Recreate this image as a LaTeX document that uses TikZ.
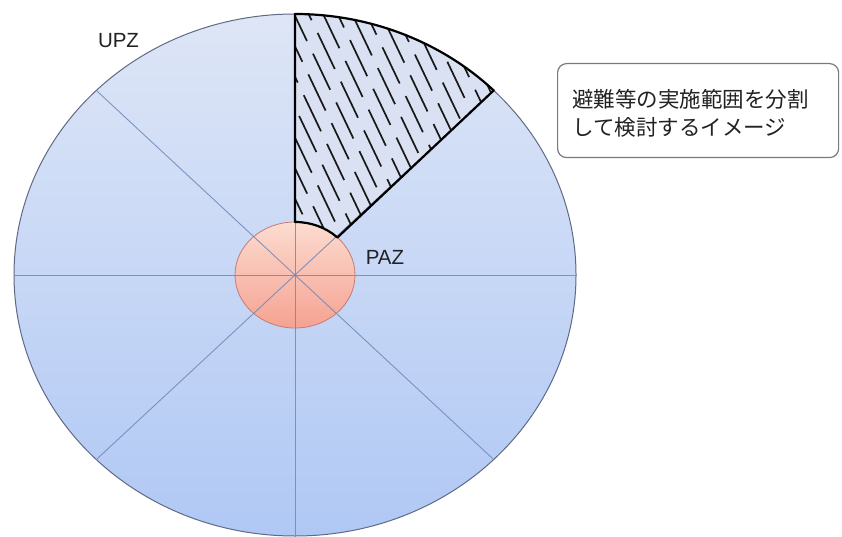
\documentclass[tikz,border=0pt]{standalone}
\usepackage{fontspec}
\setmainfont{Liberation Sans}
\newfontfamily\jpfont{Noto Sans CJK JP}
\usetikzlibrary{calc}
\begin{document}
\begin{tikzpicture}[x=1pt,y=1pt,
  radial/.style={draw=radline,line width=0.9pt},
  sectorborder/.style={draw=black,line width=2.2pt,line join=round},
  hatchline/.style={draw=black!90,line width=1.7pt,dash pattern=on 40pt off 14pt},
  lbl/.style={font=\fontsize{20.5}{24}\selectfont,text=textgray,inner sep=0pt},
  notebox/.style={draw=boxgray,line width=1.2pt,rounded corners=9pt,fill=white,inner sep=0pt}
]
\definecolor{radline}{HTML}{6F86B8}
\definecolor{textgray}{HTML}{222222}
\definecolor{boxgray}{HTML}{7A7A7A}
\definecolor{outtop}{HTML}{DEE6F6}
\definecolor{outbot}{HTML}{B0C8F5}
\definecolor{outline}{HTML}{5F6A85}
\definecolor{paztop}{HTML}{FCDCD0}
\definecolor{pazbot}{HTML}{F5A292}
\definecolor{pazline}{HTML}{C87A74}
\definecolor{sectfill}{HTML}{D9E1F2}
\useasboundingbox (0,0) rectangle (842,536);
\fill[white] (0,0) rectangle (842,536);
\coordinate (C) at (295,261);
% outer UPZ ellipse
\shade[top color=outtop,bottom color=outbot] (C) ellipse [x radius=281,y radius=261];
\draw[draw=outline,line width=1pt] (C) ellipse [x radius=281,y radius=261];
% sector fill
\fill[sectfill] (295,314) -- (295,522) arc[start angle=90,end angle=45,x radius=281,y radius=261]
  -- (337.4,298.5) arc[start angle=45,end angle=90,x radius=60,y radius=53] -- cycle;
% PAZ circle
\shade[top color=paztop,bottom color=pazbot] (C) ellipse [x radius=60,y radius=53];
\draw[draw=pazline,line width=0.8pt] (C) ellipse [x radius=60,y radius=53];
% radial lines
\foreach \a in {0,45,...,315}{
  \draw[radial,opacity=0.85] (C) -- ($(C)+(\a:281 and 261)$);
}
% hatching
\begin{scope}
\clip (295,314) -- (295,522) arc[start angle=90,end angle=45,x radius=281,y radius=261]
  -- (337.4,298.5) arc[start angle=45,end angle=90,x radius=60,y radius=53] -- cycle;
\foreach \i in {0,...,24}{
  \pgfmathsetmacro\ph{mod(\i*23,54)}
  \pgfmathsetmacro\xa{160+\i*14.5}
  \draw[hatchline,dash phase=\ph pt] (\xa,560) -- ++(300,-630);
}
\end{scope}
\draw[sectorborder] (295,314) -- (295,522) arc[start angle=90,end angle=45,x radius=281,y radius=261]
  -- (337.4,298.5) arc[start angle=45,end angle=90,x radius=60,y radius=53] -- cycle;
% labels
\node[lbl] (upz) at (118.5,495.5) {UPZ};
\node[lbl] (paz) at (385,278.5) {PAZ};
% note box
\node[notebox,minimum width=281pt,minimum height=94pt,anchor=north west] (box) at (557,473) {};
\node[anchor=west,align=left,inner sep=0pt,text=textgray,font=\jpfont\fontsize{21.5}{28}\selectfont] (note) at (572,423)
  {避難等の実施範囲を分割\\して検討するイメージ};
\end{tikzpicture}
\end{document}
